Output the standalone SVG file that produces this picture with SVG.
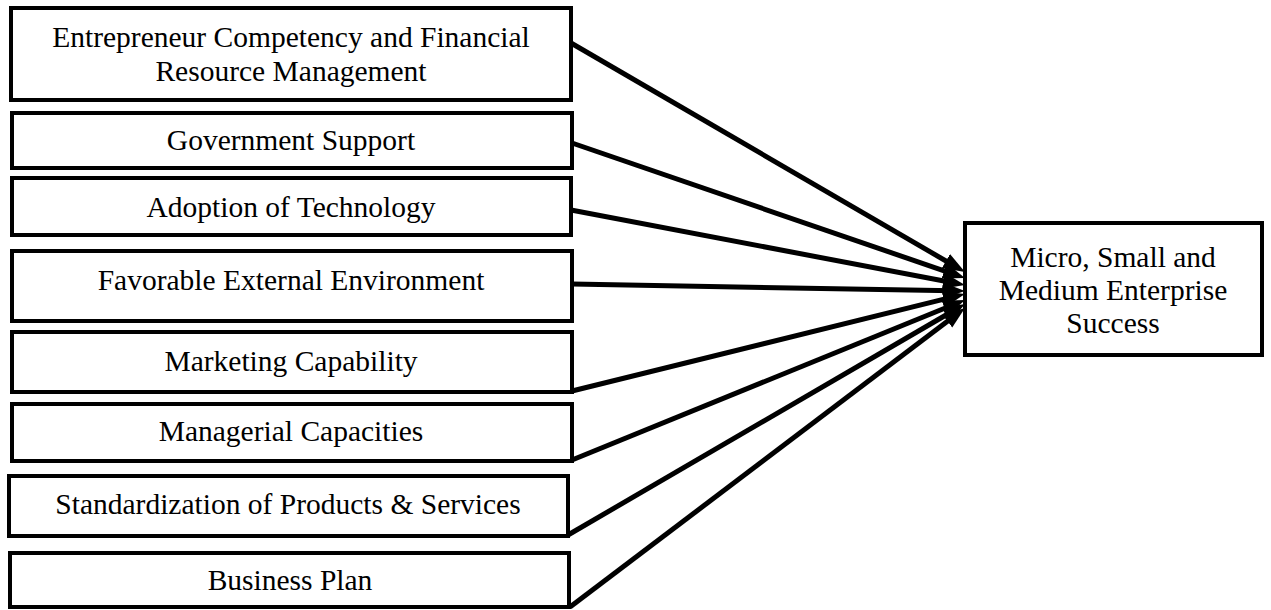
<svg xmlns="http://www.w3.org/2000/svg" width="1271" height="610" viewBox="0 0 1271 610">
<style>
.box{fill:#fff;stroke:#000;stroke-width:4}
.t{font-family:"Liberation Serif","Times New Roman",serif;font-size:29.5px;fill:#000;text-anchor:middle}
.c{stroke:#000;stroke-width:5;fill:none;marker-end:url(#ah)}
</style>
<defs>
<marker id="ah" markerUnits="userSpaceOnUse" markerWidth="24" markerHeight="18" refX="10" refY="8" orient="auto" viewBox="0 0 24 18">
<path d="M0,0 L22,8 L0,16 Z" fill="#000"/>
</marker>
</defs>
<rect width="1271" height="610" fill="#fff"/>
<g id="connectors">
<line class="c" x1="571" y1="43" x2="954.6" y2="266"/>
<line class="c" x1="572" y1="143" x2="953.6" y2="274.1"/>
<line class="c" x1="571" y1="210" x2="953.2" y2="282.8"/>
<line class="c" x1="572" y1="284" x2="953" y2="290.8"/>
<line class="c" x1="572" y1="391" x2="953.3" y2="296.9"/>
<line class="c" x1="572" y1="460" x2="953.9" y2="304.5"/>
<line class="c" x1="568" y1="535" x2="954.6" y2="310"/>
<line class="c" x1="570" y1="607" x2="955.4" y2="315.2"/>
</g>
<g id="n1"><rect class="box" x="11" y="8" width="560" height="92"/>
<text class="t" x="291" y="47">Entrepreneur Competency and Financial</text>
<text class="t" x="291" y="81">Resource Management</text></g>
<g id="n2"><rect class="box" x="12" y="113" width="560" height="55"/>
<text class="t" x="291" y="150">Government Support</text></g>
<g id="n3"><rect class="box" x="12" y="178" width="559" height="57"/>
<text class="t" x="291" y="217">Adoption of Technology</text></g>
<g id="n4"><rect class="box" x="12" y="251" width="560" height="70"/>
<text class="t" x="291" y="290">Favorable External Environment</text></g>
<g id="n5"><rect class="box" x="12" y="332" width="560" height="60"/>
<text class="t" x="291" y="371">Marketing Capability</text></g>
<g id="n6"><rect class="box" x="12" y="404" width="560" height="57"/>
<text class="t" x="291" y="441">Managerial Capacities</text></g>
<g id="n7"><rect class="box" x="9" y="476" width="559" height="60"/>
<text class="t" x="288" y="514">Standardization of Products &amp; Services</text></g>
<g id="n8"><rect class="box" x="10" y="553" width="559" height="54"/>
<text class="t" x="290" y="590">Business Plan</text></g>
<g id="n9"><rect class="box" x="965" y="223" width="297" height="132"/>
<text class="t" x="1113" y="267">Micro, Small and</text>
<text class="t" x="1113" y="300">Medium Enterprise</text>
<text class="t" x="1113" y="333">Success</text></g>
</svg>
